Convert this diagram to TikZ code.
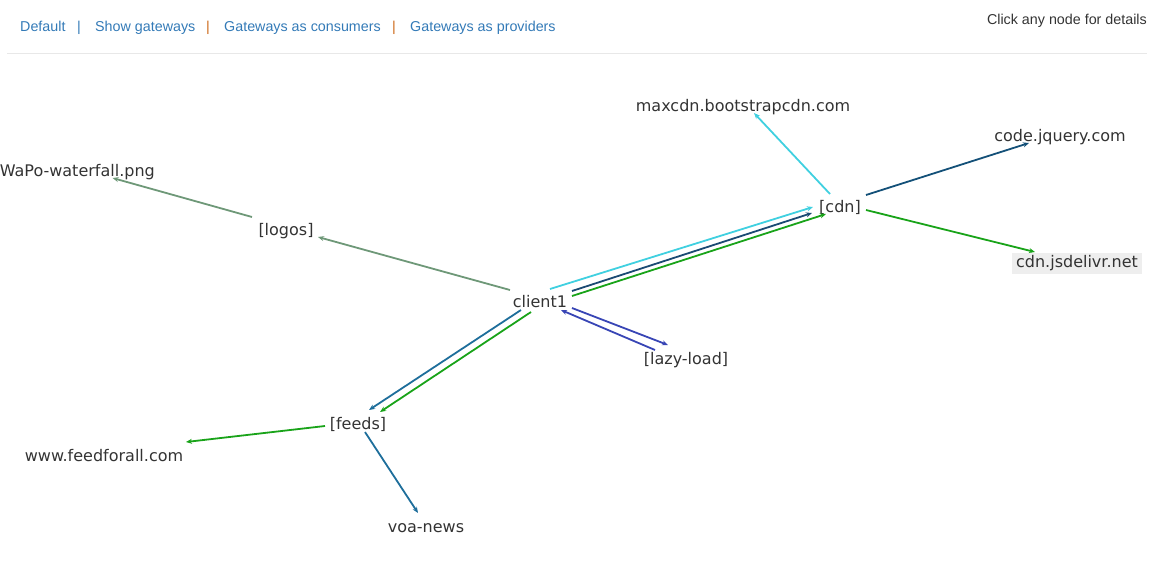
\documentclass[tikz,border=0pt]{standalone}
\usepackage{fontspec}
\setmainfont{DejaVu Sans}
\newfontfamily\hdrfont{Liberation Sans}
\usetikzlibrary{arrows.meta}
\definecolor{txt}{RGB}{51,51,51}
\definecolor{link}{RGB}{51,122,183}
\definecolor{sepor}{RGB}{205,105,25}
\definecolor{rule}{RGB}{232,232,232}
\definecolor{cLogo}{RGB}{110,152,120}
\definecolor{cCyan}{RGB}{64,208,224}
\definecolor{cNavy}{RGB}{27,74,115}
\definecolor{cGreen}{RGB}{25,163,25}
\definecolor{cFeed}{RGB}{30,110,155}
\definecolor{cLazy}{RGB}{56,69,181}
\definecolor{cJq}{RGB}{19,80,120}
\definecolor{jsbg}{RGB}{238,238,238}
\tikzset{
  gnode/.style={inner sep=0pt, text height=11pt, text depth=7pt, text=txt, font=\fontsize{16}{19}\selectfont},
  hdr/.style={inner sep=0pt, anchor=base west, text=link, font=\hdrfont\fontsize{14.3}{16}\selectfont},
  hsep/.style={inner sep=0pt, anchor=base, font=\hdrfont\fontsize{14.3}{16}\selectfont},
  edge/.style={line width=1.8pt, -{Stealth[length=6pt,width=5pt]}},
}
\begin{document}
\begin{tikzpicture}[x=1pt,y=-1pt]
\useasboundingbox (0,0) rectangle (1160,584);
\clip (0,0) rectangle (1160,584);
% header
\node[hdr] (hDefault) at (20,31) {Default};
\node[hsep,text=link] (s1) at (79,31) {|};
\node[hdr] (hShow) at (95,31) {Show gateways};
\node[hsep,text=sepor] (s2) at (208,31) {|};
\node[hdr] (hCons) at (224,31) {Gateways as consumers};
\node[hsep,text=sepor] (s3) at (394,31) {|};
\node[hdr] (hProv) at (410,31) {Gateways as providers};
\node[hdr,anchor=base east,text=txt] (hClick) at (1147,24) {Click any node for details};
\draw[rule,line width=1pt] (7,53) -- (1147,53);
% nodes
\node[gnode] (maxcdn) at (743,109) {maxcdn.bootstrapcdn.com};
\node[gnode] (jq) at (1060,139) {code.jquery.com};
\node[gnode,anchor=east] (wapo) at (155,174) {WaPo-waterfall.png};
\node[gnode] (cdn) at (840,210) {[cdn]};
\node[gnode] (logos) at (286,233) {[logos]};
\node[gnode,fill=jsbg,inner xsep=4pt,inner ysep=3pt,text height=11.5pt,text depth=3.5pt] (js) at (1077,263) {cdn.jsdelivr.net};
\node[gnode] (client) at (540,305) {client1};
\node[gnode] (lazy) at (686,362) {[lazy-load]};
\node[gnode] (feeds) at (358,427) {[feeds]};
\node[gnode] (ffa) at (104,459) {www.feedforall.com};
\node[gnode] (voa) at (426,530) {voa-news};
% edges
\draw[edge,cLogo] ([shift={(-30,-15)}]client.center) -- ([shift={(32,4)}]logos.center);
\draw[edge,cLogo] ([shift={(-34,-16)}]logos.center) -- ([shift={(113,4)}]wapo.west);
\draw[edge,cCyan] ([shift={(10,-16)}]client.center) -- ([shift={(-27,-3)}]cdn.center);
\draw[edge,cNavy] ([shift={(32,-14)}]client.center) -- ([shift={(-28,3)}]cdn.center);
\draw[edge,cGreen] ([shift={(32,-9)}]client.center) -- ([shift={(-14,4)}]cdn.center);
\draw[edge,cCyan] ([shift={(-10,-16)}]cdn.center) -- ([shift={(11,4)}]maxcdn.center);
\draw[edge,cJq] ([shift={(26,-15)}]cdn.center) -- ([shift={(-31,4)}]jq.center);
\draw[edge,cGreen] ([shift={(26,0)}]cdn.center) -- ([shift={(-42,-11)}]js.center);
\draw[edge,cFeed] ([shift={(-19,5)}]client.center) -- ([shift={(11,-17)}]feeds.center);
\draw[edge,cGreen] ([shift={(-9,7)}]client.center) -- ([shift={(22,-15)}]feeds.center);
\draw[edge,cLazy] ([shift={(32,3)}]client.center) -- ([shift={(-18,-17)}]lazy.center);
\draw[edge,cLazy] ([shift={(-31,-12)}]lazy.center) -- ([shift={(21,5)}]client.center);
\draw[edge,cGreen] ([shift={(-33,-1)}]feeds.center) -- ([shift={(82,-17)}]ffa.center);
\draw[edge,cFeed] ([shift={(7,5)}]feeds.center) -- ([shift={(-8,-17)}]voa.center);
\end{tikzpicture}
\end{document}
